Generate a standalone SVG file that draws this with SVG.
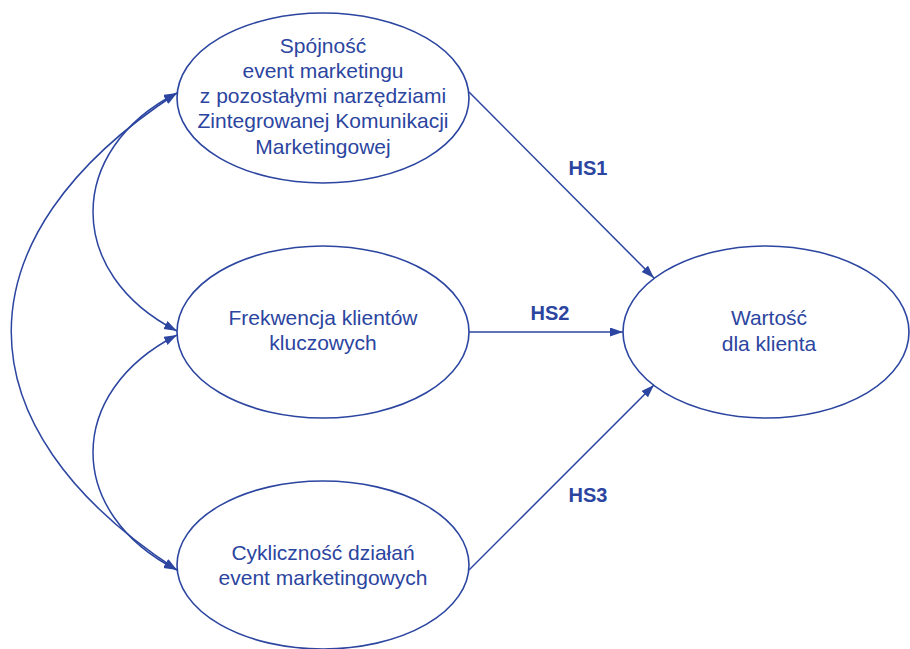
<svg xmlns="http://www.w3.org/2000/svg" width="910" height="649" viewBox="0 0 910 649">
<style>
.node{fill:#fff;stroke:#2B45A0;stroke-width:1.6}
.t{font-family:"Liberation Sans",Arial,sans-serif;font-size:21px;fill:#2B45A0;text-anchor:middle}
.lbl{font-family:"Liberation Sans",Arial,sans-serif;font-size:20px;font-weight:bold;fill:#2B45A0;text-anchor:middle}
.c{fill:none;stroke:#2B45A0;stroke-width:1.5}
</style>
<defs>
<marker id="ah" markerUnits="userSpaceOnUse" markerWidth="14" markerHeight="10" refX="13" refY="4.5" orient="auto-start-reverse">
<path d="M0,0 L13,4.5 L0,9 z" fill="#2B45A0"/>
</marker>
</defs>
<rect width="910" height="649" fill="#fff"/>
<g id="connectors">
<path class="c" d="M177,93 C65,150 65,274 177,331" marker-start="url(#ah)" marker-end="url(#ah)"/>
<path class="c" d="M177,335 C65,392 65,513 177,570" marker-start="url(#ah)" marker-end="url(#ah)"/>
<path class="c" d="M177,93 C-44,237 -44,426 177,570" marker-start="url(#ah)" marker-end="url(#ah)"/>
<path class="c" d="M469,92 L654,278" marker-end="url(#ah)"/>
<path class="c" d="M469,332 L623,332" marker-end="url(#ah)"/>
<path class="c" d="M469,570 L654,385" marker-end="url(#ah)"/>
<text class="lbl" x="588" y="175">HS1</text>
<text class="lbl" x="550" y="320">HS2</text>
<text class="lbl" x="588" y="502">HS3</text>
</g>
<g id="spojnosc">
<ellipse class="node" cx="323" cy="98" rx="146" ry="85"/>
<text class="t" x="323" y="53">Spójność</text>
<text class="t" x="323" y="78">event marketingu</text>
<text class="t" x="323" y="103">z pozostałymi narzędziami</text>
<text class="t" x="323" y="128">Zintegrowanej Komunikacji</text>
<text class="t" x="323" y="154">Marketingowej</text>
</g>
<g id="frekwencja">
<ellipse class="node" cx="323" cy="332" rx="146" ry="86"/>
<text class="t" x="323" y="325">Frekwencja klientów</text>
<text class="t" x="323" y="350">kluczowych</text>
</g>
<g id="cyklicznosc">
<ellipse class="node" cx="323" cy="565" rx="146" ry="84"/>
<text class="t" x="323" y="560">Cykliczność działań</text>
<text class="t" x="323" y="585">event marketingowych</text>
</g>
<g id="wartosc">
<ellipse class="node" cx="766" cy="332" rx="143" ry="86"/>
<text class="t" x="769" y="325">Wartość</text>
<text class="t" x="769" y="351">dla klienta</text>
</g>
</svg>
